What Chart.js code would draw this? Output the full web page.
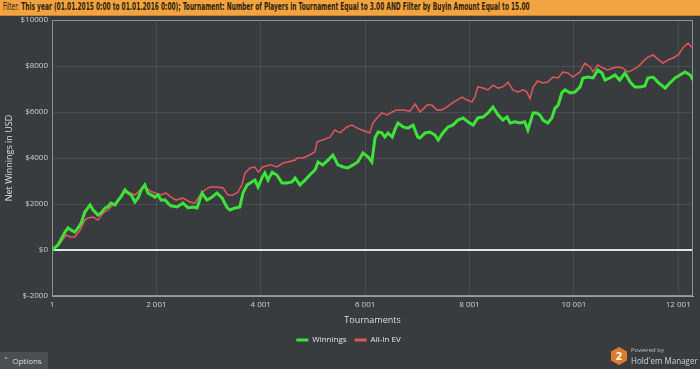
<!DOCTYPE html>
<html>
<head>
<meta charset="utf-8">
<script src="https://cdn.jsdelivr.net/npm/chart.js@4/dist/chart.umd.min.js"></script>
<style>
  body { margin: 0; width: 700px; height: 369px; overflow: hidden; position: relative; background: #393c3f; font-family: "Open Sans", "DejaVu Sans", sans-serif; }
  #hdr { position: absolute; left: 0; top: 0; width: 700px; height: 15px; background: #f2a443; border-bottom: 1px solid #c8812c; overflow: hidden; }
  #hdr span.txt { position: absolute; left: 3px; top: 1px; white-space: nowrap; font-family: "Liberation Sans Narrow", "DejaVu Sans Condensed", "Liberation Sans", sans-serif; font-size: 10px; color: #2e1f06; transform-origin: 0 0; }
  #hdr b { font-weight: bold; }
  #c { position: absolute; left: 0; top: 0; }
  #opt { position: absolute; left: 0; top: 352px; width: 48px; height: 17px; background: #4b4e52; color: #d8d8d8; font-size: 8px; line-height: 17px; text-indent: 4px; }
  #logo { position: absolute; left: 611px; top: 346px; width: 89px; height: 22px; }
  #hex { position: absolute; left: 0; top: 1px; width: 16px; height: 18px; background: #e07b2a; clip-path: polygon(50% 0, 100% 25%, 100% 75%, 50% 100%, 0 75%, 0 25%); color: #fff; font-weight: bold; font-size: 11px; line-height: 18px; text-align: center; }
  #pw { position: absolute; left: 20px; top: 0; font-size: 6px; color: #bdbdbd; }
  #hm { position: absolute; left: 20px; top: 8px; font-size: 9px; color: #cfcfcf; white-space: nowrap; transform-origin: 0 0; }
</style>
</head>
<body>
<canvas id="c" width="700" height="369"></canvas>
<div id="hdr"><span class="txt" id="hdrtxt">Filter: <b>This year (01.01.2015 0:00 to 01.01.2016 0:00); Tournament: Number of Players in Tournament Equal to 3.00 AND Filter by Buyin Amount Equal to 15.00</b></span></div>
<div id="opt">&#708;&nbsp; Options</div>
<div id="logo"><div id="hex">2</div><div id="pw">Powered by</div><div id="hm">Hold'em Manager</div></div>
<script>
// squeeze texts so they end where the original does
function fitWidth(id, w) {
  var el = document.getElementById(id);
  el.style.transform = 'scaleX(' + (w / el.offsetWidth) + ')';
}
fitWidth('hdrtxt', 527);
fitWidth('hm', 67);

// values (tournament number, net $)
var winTournaments = [1, 116, 250, 310, 365, 440, 500, 560, 630, 730, 790, 880, 940, 1020, 1070, 1130, 1210, 1270, 1320, 1400,
  1460, 1520, 1590, 1650, 1710, 1780, 1840, 1975, 2030, 2090, 2170, 2220, 2280, 2400, 2510, 2610, 2700, 2780, 2875, 2970,
  3070, 3160, 3260, 3350, 3410, 3510, 3600, 3660, 3740, 3830, 3890, 3950, 4030, 4080, 4140, 4220, 4310, 4410, 4500, 4600,
  4660, 4750, 4850, 4940, 5040, 5100, 5190, 5290, 5385, 5480, 5580, 5670, 5770, 5860, 5960, 6060, 6130, 6190, 6250, 6320,
  6380, 6440, 6520, 6570, 6630, 6730, 6820, 6920, 7010, 7050, 7150, 7240, 7340, 7400, 7490, 7590, 7680, 7780, 7880, 7970,
  8070, 8160, 8260, 8355, 8450, 8550, 8640, 8720, 8780, 8870, 8970, 9060, 9120, 9160, 9220, 9290, 9350, 9410, 9500, 9580,
  9640, 9700, 9770, 9830, 9930, 10020, 10120, 10175, 10270, 10370, 10460, 10540, 10600, 10690, 10790, 10880, 10980, 11080, 11170, 11270,
  11360, 11420, 11520, 11610, 11750, 11840, 11940, 12035, 12130, 12230, 12284];
var winnings = [0, 220, 780, 960, 870, 780, 960, 1170, 1650, 1960, 1740, 1520, 1610, 1830, 1870, 2040, 1960, 2170, 2300, 2610,
  2480, 2390, 2090, 2260, 2610, 2830, 2480, 2300, 2390, 2170, 2170, 2040, 1920, 1870, 2040, 1830, 1870, 1830, 2480, 2170,
  2300, 2480, 2260, 1870, 1740, 1830, 1870, 2480, 2830, 2960, 3040, 2740, 3170, 3350, 3040, 3390, 3260, 2910, 2910, 2960,
  3130, 2830, 3040, 3260, 3480, 3830, 3700, 3910, 4130, 3700, 3610, 3570, 3700, 3830, 4220, 4040, 3830, 4870, 5130, 5090,
  4910, 5090, 4910, 5220, 5520, 5350, 5300, 5430, 4910, 4870, 5090, 5130, 5000, 4780, 5090, 5350, 5430, 5650, 5740, 5570,
  5430, 5740, 5780, 5960, 6220, 5870, 5650, 5780, 5520, 5570, 5520, 5570, 5220, 5520, 5960, 5960, 5870, 5650, 5520, 5740,
  6170, 6300, 6830, 6960, 6830, 6870, 7090, 7480, 7520, 7480, 7830, 7700, 7390, 7480, 7610, 7390, 7700, 7300, 7090, 7090,
  7130, 7480, 7520, 7300, 7040, 7260, 7480, 7610, 7740, 7610, 7390];

var evTournaments = [1, 173, 270, 350, 440, 540, 630, 690, 790, 880, 980, 1070, 1170, 1270, 1360, 1460, 1590, 1690, 1780, 1880,
  1975, 2090, 2185, 2280, 2380, 2510, 2645, 2740, 2840, 2930, 3030, 3160, 3280, 3370, 3470, 3565, 3640, 3700, 3800, 3890,
  3950, 4040, 4180, 4310, 4430, 4520, 4660, 4700, 4810, 4940, 5040, 5080, 5190, 5330, 5420, 5520, 5650, 5750, 5850, 5940,
  6040, 6090, 6150, 6230, 6320, 6420, 6520, 6610, 6730, 6860, 6960, 7050, 7190, 7280, 7380, 7470, 7570, 7670, 7760, 7860,
  7950, 8050, 8105, 8160, 8260, 8355, 8450, 8550, 8640, 8740, 8830, 8930, 9030, 9100, 9160, 9220, 9310, 9410, 9500, 9600,
  9700, 9790, 9890, 9980, 10120, 10210, 10310, 10370, 10460, 10560, 10650, 10750, 10850, 10940, 11040, 11130, 11230, 11330, 11420, 11520,
  11610, 11710, 11800, 11900, 12000, 12090, 12190, 12250, 12284];
var allInEV = [0, 350, 650, 570, 570, 870, 1300, 1390, 1430, 1300, 1610, 1740, 1960, 2170, 2480, 2520, 2390, 2610, 2740, 2570,
  2480, 2390, 2480, 2300, 2170, 2260, 2090, 2040, 2390, 2610, 2740, 2740, 2700, 2390, 2390, 2520, 2830, 3350, 3570, 3610,
  3390, 3610, 3700, 3610, 3780, 3830, 3910, 4000, 4000, 4130, 4260, 4700, 4780, 4910, 5220, 5090, 5350, 5430, 5300, 5220,
  5130, 5090, 5520, 5740, 5960, 5870, 6000, 6090, 6090, 6040, 6350, 6000, 6300, 6300, 6090, 6090, 6220, 6390, 6520, 6650,
  6520, 6440, 6650, 7090, 7040, 6960, 7170, 7040, 7090, 7300, 6960, 6870, 6960, 6870, 6570, 7090, 7350, 7260, 7300, 7520,
  7480, 7740, 7700, 7520, 7740, 8130, 7960, 7740, 8040, 7910, 7830, 7910, 7960, 7910, 7740, 7830, 7960, 8200, 8390, 8480,
  8300, 8130, 8260, 8350, 8480, 8780, 9000, 8830, 8870];

var xTicks = [1, 2001, 4001, 6001, 8001, 10001, 12001];
var xTickLabels = ['1', '2 001', '4 001', '6 001', '8 001', '10 001', '12 001'];
var lastTournament = 12284;

function pairs(xs, ys) {
  return xs.map(function (x, i) { return { x: x, y: ys[i] }; });
}

// frame around the plot area (top / right edges too)
var frame = {
  id: 'frame',
  beforeDatasetsDraw: function (chart) {
    var a = chart.chartArea, ctx = chart.ctx;
    ctx.save();
    ctx.strokeStyle = '#8e9194';
    ctx.lineWidth = 1;
    ctx.strokeRect(a.left + 0.5, a.top + 0.5, a.right - a.left - 1, a.bottom - a.top - 1);
    ctx.restore();
  }
};

Chart.defaults.font.family = '"Open Sans", "DejaVu Sans", sans-serif';
Chart.defaults.color = '#cfcfcf';

new Chart(document.getElementById('c'), {
  type: 'line',
  data: {
    datasets: [{
      label: 'Winnings',
      data: pairs(winTournaments, winnings),
      borderColor: '#3ee33a',
      backgroundColor: '#3ee33a',
      borderWidth: 3,
      pointRadius: 0,
      tension: 0
    }, {
      label: 'All-In EV',
      data: pairs(evTournaments, allInEV),
      borderColor: '#e2555a',
      backgroundColor: '#e2555a',
      borderWidth: 1.5,
      pointRadius: 0,
      tension: 0
    }]
  },
  options: {
    responsive: false,
    animation: false,
    events: [],
    layout: { padding: { left: 4, right: 7, top: 20, bottom: 15 } },
    plugins: {
      tooltip: { enabled: false },
      legend: {
        position: 'bottom',
        labels: {
          color: '#e6e6e6',
          font: { size: 8 },
          boxWidth: 12,
          boxHeight: 3,
          padding: 8,
          generateLabels: function (chart) {
            var items = Chart.defaults.plugins.legend.labels.generateLabels(chart);
            items.forEach(function (it) { it.lineWidth = 0; });
            return items;
          }
        }
      }
    },
    scales: {
      x: {
        type: 'linear',
        min: 1,
        max: lastTournament,
        afterBuildTicks: function (scale) {
          scale.ticks = xTicks.map(function (v) { return { value: v }; });
        },
        afterFit: function (scale) { scale.height = 32; },
        ticks: {
          autoSkip: false,
          maxRotation: 0,
          padding: 4,
          font: { size: 8 },
          color: '#cfcfcf',
          callback: function (v, i) { return xTickLabels[i]; }
        },
        grid: { color: 'rgba(255,255,255,0.09)', drawTicks: false },
        border: { color: '#9a9da0' },
        title: { display: true, text: 'Tournaments', color: '#dedede', font: { size: 9 }, padding: { top: 3, bottom: 2 } }
      },
      y: {
        min: -2000,
        max: 10000,
        afterFit: function (scale) { scale.width = 48; },
        ticks: {
          stepSize: 2000,
          padding: 4,
          font: { size: 8 },
          color: '#cfcfcf',
          callback: function (v) { return '$' + v; }
        },
        grid: {
          drawTicks: false,
          color: function (c) { return c.tick && c.tick.value === 0 ? '#e4e4e4' : 'rgba(255,255,255,0.09)'; },
          lineWidth: function (c) { return c.tick && c.tick.value === 0 ? 2 : 1; }
        },
        border: { color: '#9a9da0' },
        title: { display: true, text: 'Net Winnings in USD', color: '#dedede', font: { size: 9 }, padding: 0 }
      }
    }
  },
  plugins: [frame]
});
</script>
</body>
</html>
